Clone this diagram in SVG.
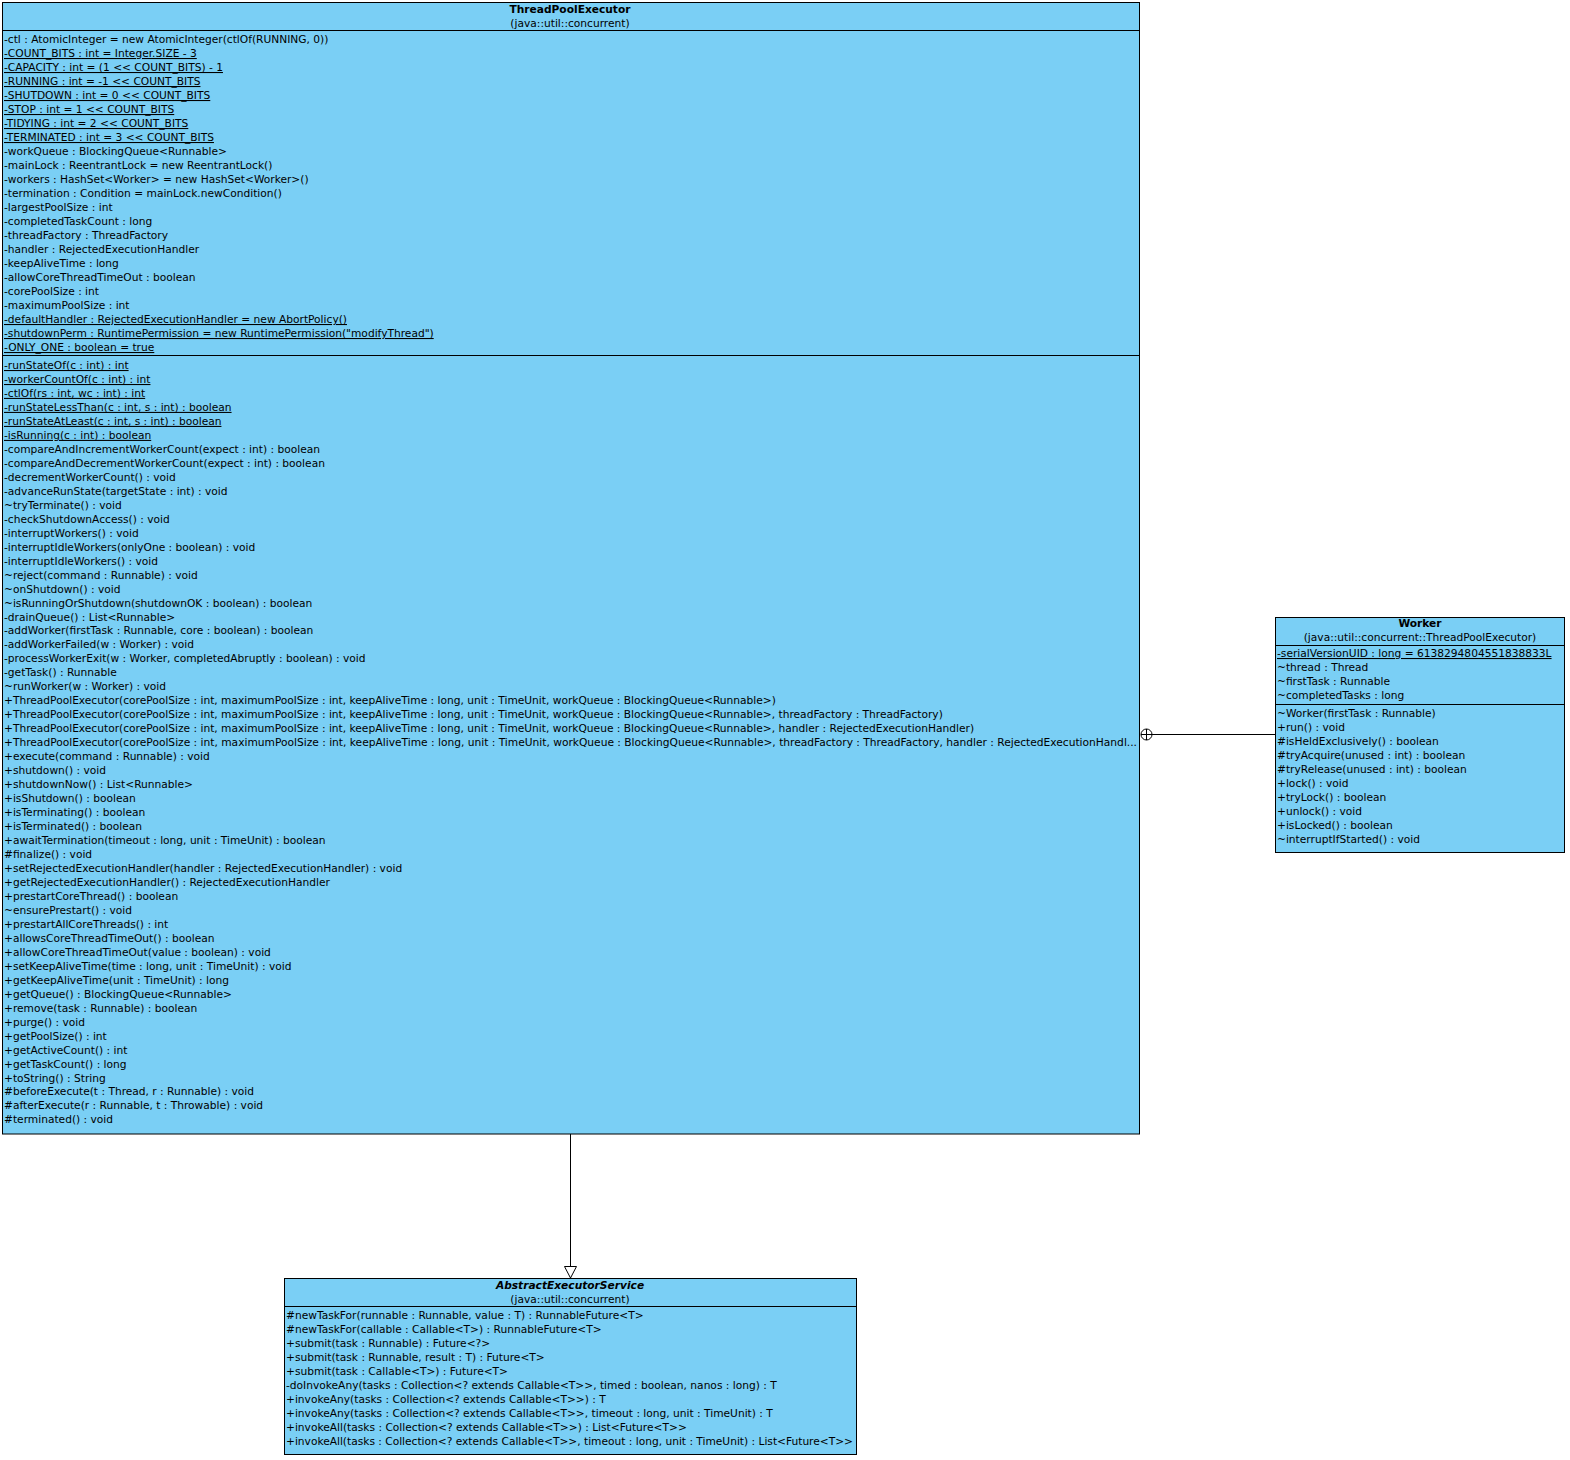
<svg xmlns="http://www.w3.org/2000/svg" width="1570" height="1460" viewBox="0 0 1570 1460">
<style>
.box{fill:#7acff5;stroke:#000;stroke-width:1}
.sep{stroke:#000;stroke-width:1}
text{font-family:"DejaVu Sans","Liberation Sans",sans-serif;font-size:10.65px;fill:#000}
.c{text-anchor:middle}
.b{font-weight:bold}
.bi{font-weight:bold;font-style:italic}
.u{text-decoration:underline}
.ln{stroke:#000;stroke-width:1;fill:none}
</style>
<rect width="1570" height="1460" fill="#fff"/>
<g id="ThreadPoolExecutor">
<rect class="box" x="2.5" y="2.5" width="1137" height="1131.5"/>
<line class="sep" x1="2.5" y1="30.5" x2="1139.5" y2="30.5"/>
<line class="sep" x1="2.5" y1="355.5" x2="1139.5" y2="355.5"/>
<text class="c b" x="570" y="13">ThreadPoolExecutor</text>
<text class="c" x="570" y="27">(java::util::concurrent)</text>
<text x="4" y="43">-ctl : AtomicInteger = new AtomicInteger(ctlOf(RUNNING, 0))</text>
<text class="u" x="4" y="57">-COUNT_BITS : int = Integer.SIZE - 3</text>
<text class="u" x="4" y="71">-CAPACITY : int = (1 &lt;&lt; COUNT_BITS) - 1</text>
<text class="u" x="4" y="85">-RUNNING : int = -1 &lt;&lt; COUNT_BITS</text>
<text class="u" x="4" y="99">-SHUTDOWN : int = 0 &lt;&lt; COUNT_BITS</text>
<text class="u" x="4" y="113">-STOP : int = 1 &lt;&lt; COUNT_BITS</text>
<text class="u" x="4" y="127">-TIDYING : int = 2 &lt;&lt; COUNT_BITS</text>
<text class="u" x="4" y="141">-TERMINATED : int = 3 &lt;&lt; COUNT_BITS</text>
<text x="4" y="155">-workQueue : BlockingQueue&lt;Runnable&gt;</text>
<text x="4" y="169">-mainLock : ReentrantLock = new ReentrantLock()</text>
<text x="4" y="183">-workers : HashSet&lt;Worker&gt; = new HashSet&lt;Worker&gt;()</text>
<text x="4" y="197">-termination : Condition = mainLock.newCondition()</text>
<text x="4" y="211">-largestPoolSize : int</text>
<text x="4" y="225">-completedTaskCount : long</text>
<text x="4" y="239">-threadFactory : ThreadFactory</text>
<text x="4" y="253">-handler : RejectedExecutionHandler</text>
<text x="4" y="267">-keepAliveTime : long</text>
<text x="4" y="281">-allowCoreThreadTimeOut : boolean</text>
<text x="4" y="295">-corePoolSize : int</text>
<text x="4" y="309">-maximumPoolSize : int</text>
<text class="u" x="4" y="323">-defaultHandler : RejectedExecutionHandler = new AbortPolicy()</text>
<text class="u" x="4" y="337">-shutdownPerm : RuntimePermission = new RuntimePermission("modifyThread")</text>
<text class="u" x="4" y="351">-ONLY_ONE : boolean = true</text>
<text class="u" x="4" y="369">-runStateOf(c : int) : int</text>
<text class="u" x="4" y="383">-workerCountOf(c : int) : int</text>
<text class="u" x="4" y="396.9">-ctlOf(rs : int, wc : int) : int</text>
<text class="u" x="4" y="410.9">-runStateLessThan(c : int, s : int) : boolean</text>
<text class="u" x="4" y="424.9">-runStateAtLeast(c : int, s : int) : boolean</text>
<text class="u" x="4" y="438.9">-isRunning(c : int) : boolean</text>
<text x="4" y="452.8">-compareAndIncrementWorkerCount(expect : int) : boolean</text>
<text x="4" y="466.8">-compareAndDecrementWorkerCount(expect : int) : boolean</text>
<text x="4" y="480.8">-decrementWorkerCount() : void</text>
<text x="4" y="494.7">-advanceRunState(targetState : int) : void</text>
<text x="4" y="508.7">~tryTerminate() : void</text>
<text x="4" y="522.7">-checkShutdownAccess() : void</text>
<text x="4" y="536.6">-interruptWorkers() : void</text>
<text x="4" y="550.6">-interruptIdleWorkers(onlyOne : boolean) : void</text>
<text x="4" y="564.6">-interruptIdleWorkers() : void</text>
<text x="4" y="578.6">~reject(command : Runnable) : void</text>
<text x="4" y="592.5">~onShutdown() : void</text>
<text x="4" y="606.5">~isRunningOrShutdown(shutdownOK : boolean) : boolean</text>
<text x="4" y="620.5">-drainQueue() : List&lt;Runnable&gt;</text>
<text x="4" y="634.4">-addWorker(firstTask : Runnable, core : boolean) : boolean</text>
<text x="4" y="648.4">-addWorkerFailed(w : Worker) : void</text>
<text x="4" y="662.4">-processWorkerExit(w : Worker, completedAbruptly : boolean) : void</text>
<text x="4" y="676.3">-getTask() : Runnable</text>
<text x="4" y="690.3">~runWorker(w : Worker) : void</text>
<text x="4" y="704.3">+ThreadPoolExecutor(corePoolSize : int, maximumPoolSize : int, keepAliveTime : long, unit : TimeUnit, workQueue : BlockingQueue&lt;Runnable&gt;)</text>
<text x="4" y="718.3">+ThreadPoolExecutor(corePoolSize : int, maximumPoolSize : int, keepAliveTime : long, unit : TimeUnit, workQueue : BlockingQueue&lt;Runnable&gt;, threadFactory : ThreadFactory)</text>
<text x="4" y="732.2">+ThreadPoolExecutor(corePoolSize : int, maximumPoolSize : int, keepAliveTime : long, unit : TimeUnit, workQueue : BlockingQueue&lt;Runnable&gt;, handler : RejectedExecutionHandler)</text>
<text x="4" y="746.2" textLength="1133" lengthAdjust="spacingAndGlyphs">+ThreadPoolExecutor(corePoolSize : int, maximumPoolSize : int, keepAliveTime : long, unit : TimeUnit, workQueue : BlockingQueue&lt;Runnable&gt;, threadFactory : ThreadFactory, handler : RejectedExecutionHandl...</text>
<text x="4" y="760.2">+execute(command : Runnable) : void</text>
<text x="4" y="774.1">+shutdown() : void</text>
<text x="4" y="788.1">+shutdownNow() : List&lt;Runnable&gt;</text>
<text x="4" y="802.1">+isShutdown() : boolean</text>
<text x="4" y="816">+isTerminating() : boolean</text>
<text x="4" y="830">+isTerminated() : boolean</text>
<text x="4" y="844">+awaitTermination(timeout : long, unit : TimeUnit) : boolean</text>
<text x="4" y="858">#finalize() : void</text>
<text x="4" y="871.9">+setRejectedExecutionHandler(handler : RejectedExecutionHandler) : void</text>
<text x="4" y="885.9">+getRejectedExecutionHandler() : RejectedExecutionHandler</text>
<text x="4" y="899.9">+prestartCoreThread() : boolean</text>
<text x="4" y="913.8">~ensurePrestart() : void</text>
<text x="4" y="927.8">+prestartAllCoreThreads() : int</text>
<text x="4" y="941.8">+allowsCoreThreadTimeOut() : boolean</text>
<text x="4" y="955.7">+allowCoreThreadTimeOut(value : boolean) : void</text>
<text x="4" y="969.7">+setKeepAliveTime(time : long, unit : TimeUnit) : void</text>
<text x="4" y="983.7">+getKeepAliveTime(unit : TimeUnit) : long</text>
<text x="4" y="997.7">+getQueue() : BlockingQueue&lt;Runnable&gt;</text>
<text x="4" y="1011.6">+remove(task : Runnable) : boolean</text>
<text x="4" y="1025.6">+purge() : void</text>
<text x="4" y="1039.6">+getPoolSize() : int</text>
<text x="4" y="1053.5">+getActiveCount() : int</text>
<text x="4" y="1067.5">+getTaskCount() : long</text>
<text x="4" y="1081.5">+toString() : String</text>
<text x="4" y="1095.4">#beforeExecute(t : Thread, r : Runnable) : void</text>
<text x="4" y="1109.4">#afterExecute(r : Runnable, t : Throwable) : void</text>
<text x="4" y="1123.4">#terminated() : void</text>
</g>
<g id="Worker">
<rect class="box" x="1275.5" y="617.5" width="289" height="235"/>
<line class="sep" x1="1275.5" y1="645.5" x2="1564.5" y2="645.5"/>
<line class="sep" x1="1275.5" y1="704.5" x2="1564.5" y2="704.5"/>
<text class="c b" x="1420" y="627">Worker</text>
<text class="c" x="1420" y="641">(java::util::concurrent::ThreadPoolExecutor)</text>
<text class="u" x="1277" y="657">-serialVersionUID : long = 6138294804551838833L</text>
<text x="1277" y="671">~thread : Thread</text>
<text x="1277" y="685">~firstTask : Runnable</text>
<text x="1277" y="699">~completedTasks : long</text>
<text x="1277" y="717">~Worker(firstTask : Runnable)</text>
<text x="1277" y="731">+run() : void</text>
<text x="1277" y="745">#isHeldExclusively() : boolean</text>
<text x="1277" y="759">#tryAcquire(unused : int) : boolean</text>
<text x="1277" y="773">#tryRelease(unused : int) : boolean</text>
<text x="1277" y="787">+lock() : void</text>
<text x="1277" y="801">+tryLock() : boolean</text>
<text x="1277" y="815">+unlock() : void</text>
<text x="1277" y="829">+isLocked() : boolean</text>
<text x="1277" y="843">~interruptIfStarted() : void</text>
</g>
<g id="AbstractExecutorService">
<rect class="box" x="284.5" y="1278.5" width="572" height="176"/>
<line class="sep" x1="284.5" y1="1306.5" x2="856.5" y2="1306.5"/>
<text class="c bi" x="570" y="1289">AbstractExecutorService</text>
<text class="c" x="570" y="1303">(java::util::concurrent)</text>
<text x="286" y="1319">#newTaskFor(runnable : Runnable, value : T) : RunnableFuture&lt;T&gt;</text>
<text x="286" y="1333">#newTaskFor(callable : Callable&lt;T&gt;) : RunnableFuture&lt;T&gt;</text>
<text x="286" y="1347">+submit(task : Runnable) : Future&lt;?&gt;</text>
<text x="286" y="1361">+submit(task : Runnable, result : T) : Future&lt;T&gt;</text>
<text x="286" y="1375">+submit(task : Callable&lt;T&gt;) : Future&lt;T&gt;</text>
<text x="286" y="1389">-doInvokeAny(tasks : Collection&lt;? extends Callable&lt;T&gt;&gt;, timed : boolean, nanos : long) : T</text>
<text x="286" y="1403">+invokeAny(tasks : Collection&lt;? extends Callable&lt;T&gt;&gt;) : T</text>
<text x="286" y="1417">+invokeAny(tasks : Collection&lt;? extends Callable&lt;T&gt;&gt;, timeout : long, unit : TimeUnit) : T</text>
<text x="286" y="1431">+invokeAll(tasks : Collection&lt;? extends Callable&lt;T&gt;&gt;) : List&lt;Future&lt;T&gt;&gt;</text>
<text x="286" y="1445" textLength="567" lengthAdjust="spacingAndGlyphs">+invokeAll(tasks : Collection&lt;? extends Callable&lt;T&gt;&gt;, timeout : long, unit : TimeUnit) : List&lt;Future&lt;T&gt;&gt;</text>
</g>
<g id="connectors">
<line class="ln" x1="570.5" y1="1134" x2="570.5" y2="1266.5"/>
<polygon class="ln" points="564.5,1266.5 576.5,1266.5 570.5,1278"/>
<circle class="ln" cx="1146.5" cy="734.5" r="5.5"/>
<line class="ln" x1="1141" y1="734.5" x2="1152" y2="734.5"/>
<line class="ln" x1="1146.5" y1="729" x2="1146.5" y2="740"/>
<line class="ln" x1="1152" y1="734.5" x2="1275.5" y2="734.5"/>
</g>
</svg>
